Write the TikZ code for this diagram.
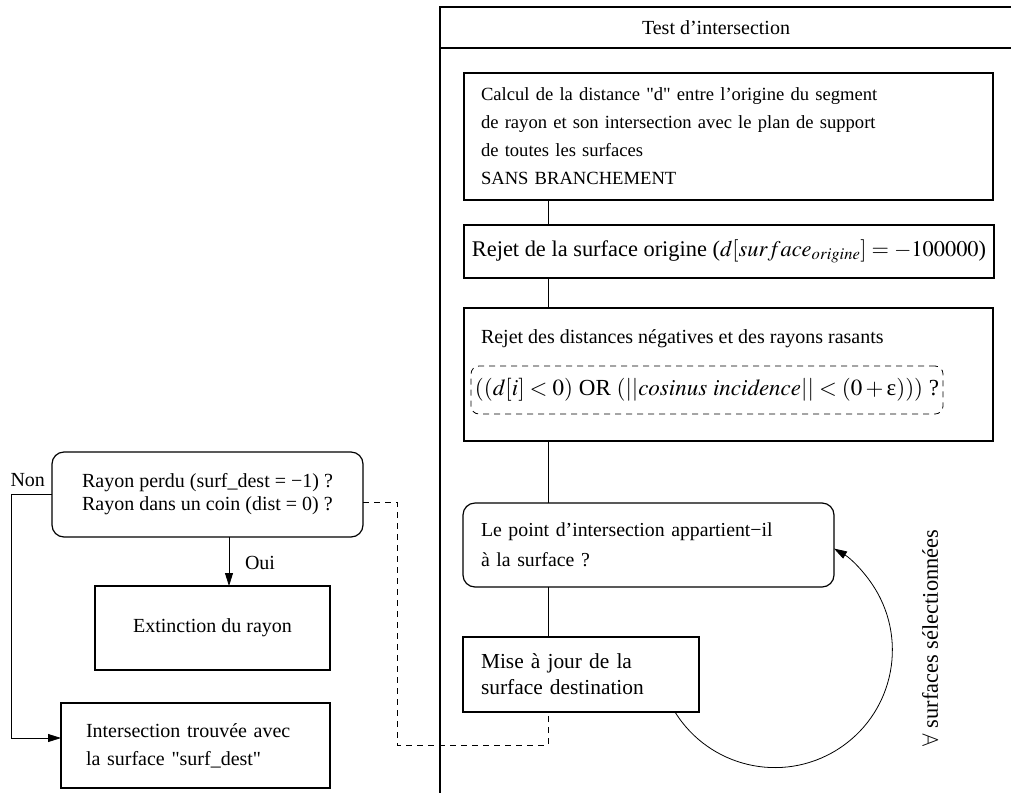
\documentclass[tikz,border=0pt]{standalone}
\usepackage{mathptmx}
\usepackage{fontspec}
\setmainfont{Liberation Serif}[Ligatures=TeXOff]
\usetikzlibrary{arrows.meta}
\begin{document}
\begin{tikzpicture}[x=1pt,y=-1pt,
  every node/.style={inner sep=0pt, outer sep=0pt},
  base/.style={font=\fontsize{20}{28}\selectfont},
  big/.style={font=\fontsize{22.4}{28}\selectfont},
  frame/.style={line width=1.9pt},
  box/.style={draw, line width=1.2pt, base, anchor=north west},
  rbox/.style={box, rounded corners=12pt},
  link/.style={line width=0.8pt},
  dlink/.style={line width=0.8pt, dash pattern=on 6pt off 5pt},
  tip/.style={-{Triangle[length=13pt,width=8pt]}}
]
\useasboundingbox (0,0) rectangle (1011,793);

% outer frame of the intersection test
\coordinate (fTL) at (440,7);
\coordinate (fTR) at (1011,7);
\coordinate (fBL) at (440,793);
\coordinate (hL) at (440,48);
\coordinate (hR) at (1011,48);
\draw[frame] (fTR) -- (fTL) -- (fBL);
\draw[frame] (hL) -- (hR);
\node[base] (title) at (716,28) {Test d’intersection};

% vertical spine of the test
\coordinate (spine) at (548,0);

\node[box, font=\fontsize{18.6}{28}\selectfont, minimum width=529pt,
      minimum height=127pt, inner xsep=17pt, text width=495pt, align=left]
  (calc) at (464,73)
  {Calcul de la distance "d" entre l’origine du segment\\
   de rayon et son intersection avec le plan de support\\
   de toutes les surfaces\\
   SANS BRANCHEMENT};

\node[box, big, minimum width=530pt, minimum height=53pt] (rejet) at (464,225)
  {Rejet de la surface origine ($d[surface_{origine}] = -100000$)};

\node[box, minimum width=529pt, minimum height=133pt] (neg) at (464,308) {};
\node[base, anchor=west] (negt) at (481,339)
  {Rejet des distances négatives et des rayons rasants};
\node[draw, dlink, rounded corners=8pt, font=\fontsize{23}{28}\selectfont,
      anchor=north west, minimum width=472pt, minimum height=48pt]
  (cond) at (471,366)
  {$((d[i] < 0)$ OR $(||\mathit{cosinus\ incidence}|| < (0+\mbox{ε})))$ ?};

\node[rbox, font=\fontsize{19.8}{30}\selectfont, minimum width=371pt,
      minimum height=84pt, inner xsep=18pt, text width=335pt, align=left]
  (inbox) at (463,503)
  {Le point d’intersection appartient−il\\ à la surface ?};

\node[box, font=\fontsize{21.4}{26}\selectfont, minimum width=236pt,
      minimum height=75pt, inner xsep=18pt, text width=200pt, align=left]
  (maj) at (463,637)
  {Mise à jour de la\\ surface destination};

\draw[link] (calc.south -| spine) -- (rejet.north -| spine);
\draw[link] (rejet.south -| spine) -- (neg.north -| spine);
\draw[link] (neg.south -| spine) -- (inbox.north -| spine);
\draw[link] (inbox.south -| spine) -- (maj.north -| spine);

% loop over the selected surfaces
\draw[link, tip] ([xshift=-24pt]maj.south east)
  arc[start angle=148.2, end angle=-59.8, radius=117.5];
\node[font=\fontsize{22.4}{24}\selectfont, rotate=90] (forall) at (930,638)
  {$\forall$ surfaces sélectionnées};

% left part: outcome of the test
\node[rbox, font=\fontsize{20}{23}\selectfont, minimum width=311pt,
      minimum height=85pt, align=left]
  (lost) at (52,452)
  {Rayon perdu (surf\_dest = −1) ?\\ Rayon dans un coin (dist = 0) ?};

\node[base, anchor=east] (non) at (45,480) {Non};

\node[box, minimum width=235pt, minimum height=84pt] (ext) at (95,586)
  {Extinction du rayon};

\node[box, minimum width=269pt, minimum height=85pt, inner xsep=25pt,
      text width=219pt, align=left] (found) at (61,703)
  {Intersection trouvée avec\\ la surface "surf\_dest"};

\coordinate (ouix) at (229,0);
\draw[link, tip] (lost.south -| ouix) -- (ext.north -| ouix);
\node[base, anchor=west] (oui) at (245,563) {Oui};

\coordinate (nonc) at (11,738);
\draw[link, tip] (lost.west) -| (nonc) -- (found.west |- nonc);

\coordinate (dcorner) at (397,745);
\draw[dlink] ([yshift=-7.5pt]lost.east) -| (dcorner) -| (maj.south -| spine);
\end{tikzpicture}
\end{document}
